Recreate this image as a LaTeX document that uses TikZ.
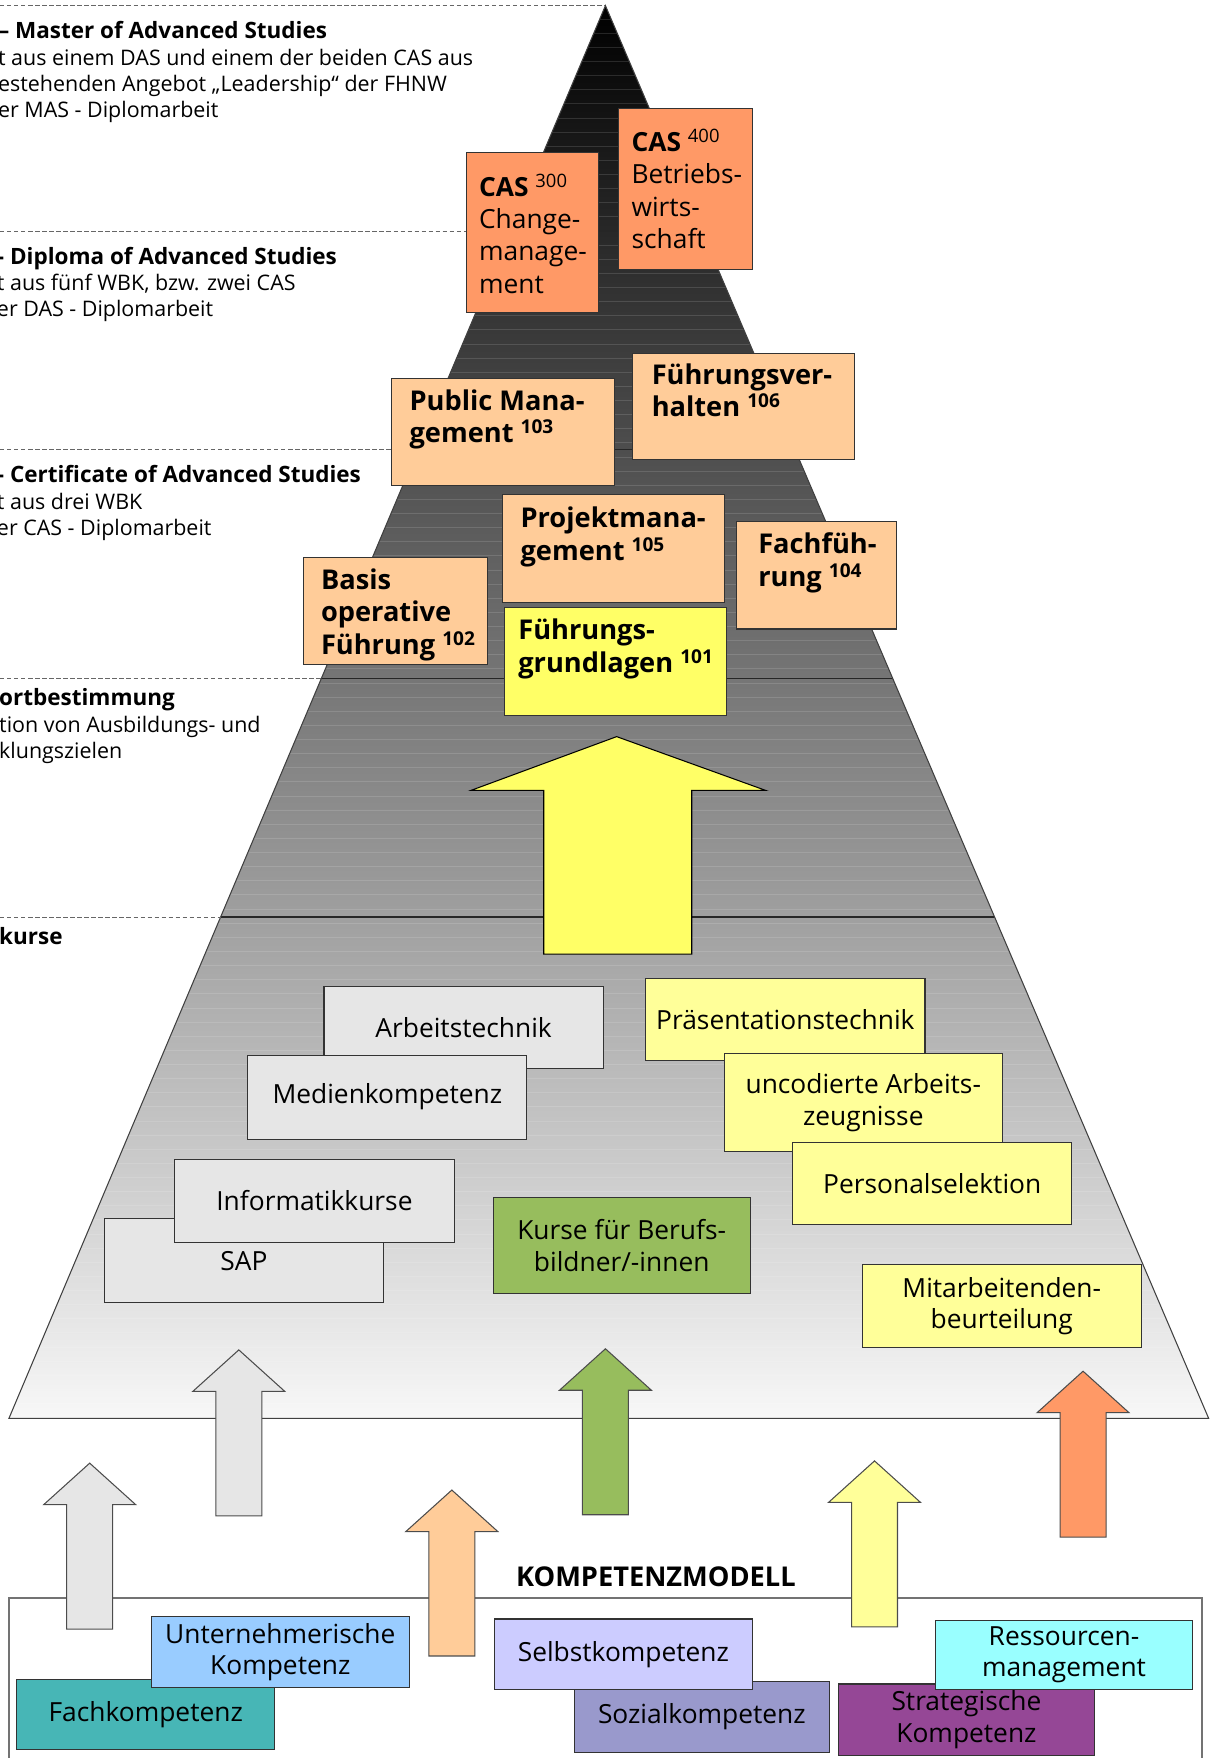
\documentclass[tikz,border=0pt]{standalone}
\usepackage{fontspec}
\setmainfont{Open Sans}
\usetikzlibrary{fit}

\definecolor{casorange}{HTML}{FF9966}
\definecolor{peach}{HTML}{FFCC99}
\definecolor{strongyellow}{HTML}{FFFF66}
\definecolor{paleyellow}{HTML}{FFFF99}
\definecolor{lightgrey}{HTML}{E6E6E6}
\definecolor{leafgreen}{HTML}{97BD5D}
\definecolor{fachteal}{HTML}{47B6B6}
\definecolor{skyblue}{HTML}{99CCFF}
\definecolor{lavender}{HTML}{CCCCFF}
\definecolor{slateviolet}{HTML}{9999CC}
\definecolor{plum}{HTML}{954796}
\definecolor{palecyan}{HTML}{99FFFF}

\newcommand\sidetitle{\fontsize{12.8}{14.9}\selectfont\bfseries}

\tikzset{
  box/.style={draw=black!80, line width=0.6pt, inner sep=0pt},
  boxtext/.style={font=\fontsize{15}{18}\selectfont, align=center},
  toptext/.style={font=\fontsize{15.5}{18.5}\selectfont\bfseries, align=left, inner sep=0pt, anchor=north west},
  castext/.style={font=\fontsize{15}{18.3}\selectfont, align=left, inner sep=0pt, anchor=north west},
  sidetext/.style={font=\fontsize{12.2}{14.9}\selectfont, align=left, inner sep=0pt, anchor=north west},
  stripe/.style={white, opacity=0.13, line width=0.5pt},
  level/.style={black!85, line width=0.8pt},
  dashline/.style={black!60, line width=0.5pt, dash pattern=on 2.5pt off 1.5pt},
  arrowline/.style={draw=black!70, line width=0.6pt},
  uparr/.pic={\draw[arrowline, fill=#1] (0,0) -- (41,37) -- (20.5,37) -- (20.5,148)
     -- (-20.5,148) -- (-20.5,37) -- (-41,37) -- cycle;}
}

\begin{document}
\begin{tikzpicture}[x=0.0224237cm, y=-0.0224237cm]
  \useasboundingbox (0,0) rectangle (1081,1568);

  % pyramid
  \coordinate (apex) at (540,5);
  \coordinate (baseleft) at (8,1265);
  \coordinate (baseright) at (1078,1265);
  \shade[top color=black, bottom color=white!97!black] (apex) -- (baseright) -- (baseleft) -- cycle;
  \begin{scope}
    \clip (apex) -- (baseright) -- (baseleft) -- cycle;
    \foreach \y in {17,29.6,...,1265}
      \draw[stripe] (0,\y) -- (1081,\y);
    \foreach \y in {206,401,605,818}
      \draw[level] (0,\y) -- (1081,\y);
  \end{scope}
  \draw[black!75, line width=0.6pt] (apex) -- (baseright) -- (baseleft) -- cycle;

  % levels on the left
  \foreach \y/\x in {5/540, 206/455, 401/373, 605/287, 818/197}
    \draw[dashline] (0,\y) -- (\x,\y);

  \node[sidetext] (mas) at (-2,19) {{\sidetitle – Master of Advanced Studies}\\
    t aus einem DAS und einem der beiden CAS aus\\
    estehenden Angebot „Leadership“ der FHNW\\
    er MAS - Diplomarbeit};
  \node[sidetext] (das) at (-3,220) {{\sidetitle - Diploma of Advanced Studies}\\
    t aus fünf WBK, bzw. zwei CAS\\
    er DAS - Diplomarbeit};
  \node[sidetext] (cas) at (-3,415) {{\sidetitle - Certificate of Advanced Studies}\\
    t aus drei WBK\\
    er CAS - Diplomarbeit};
  \node[sidetext] (standort) at (-1,614) {{\sidetitle ortbestimmung}\\
    tion von Ausbildungs- und\\
    klungszielen};
  \node[sidetext] (kurse) at (-1,827) {{\sidetitle kurse}};

  % big arrow
  \draw[draw=black, line width=0.6pt, fill=strongyellow] (550,657) -- (683,705) -- (617,705)
    -- (617,851) -- (485,851) -- (485,705) -- (420,705) -- cycle;

  % CAS and WBK boxes
  \node[box, fill=casorange, fit={(416,136) (534,279)}] (cas300) {};
  \node[castext] (cas300t) at (427,155) {\textbf{CAS} \textsuperscript{300}\\Change-\\manage-\\ment};
  \node[box, fill=casorange, fit={(552,97) (671,240)}] (cas400) {};
  \node[castext] (cas400t) at (563,115) {\textbf{CAS} \textsuperscript{400}\\Betriebs-\\wirts-\\schaft};

  \node[box, fill=peach, fit={(349,338) (548,433)}] (wbk103) {};
  \node[toptext] (wbk103t) at (365,347) {Public Mana-\\gement \textsuperscript{103}};
  \node[box, fill=peach, fit={(564,315) (762,410)}] (wbk106) {};
  \node[toptext] (wbk106t) at (581,324) {Führungsver-\\halten \textsuperscript{106}};
  \node[box, fill=peach, fit={(448,441) (646,537)}] (wbk105) {};
  \node[toptext] (wbk105t) at (464,452) {Projektmana-\\gement \textsuperscript{105}};
  \node[box, fill=peach, fit={(657,465) (800,561)}] (wbk104) {};
  \node[toptext] (wbk104t) at (676,475) {Fachfüh-\\rung \textsuperscript{104}};
  \node[box, fill=peach, fit={(271,497) (435,593)}] (wbk102) {};
  \node[toptext] (wbk102t) at (286,507) {Basis\\operative\\Führung \textsuperscript{102}};
  \node[box, fill=strongyellow, fit={(450,542) (648,638)}] (wbk101) {};
  \node[toptext] (wbk101t) at (462,552) {Führungs-\\grundlagen \textsuperscript{101}};

  % courses
  \node[box, fill=lightgrey, fit={(289,880) (538,953)}, label={[boxtext]center:Arbeitstechnik}] (arbeit) {};
  \node[box, fill=lightgrey, fit={(221,941) (470,1016)}, label={[boxtext]center:Medienkompetenz}] (medien) {};
  \node[box, fill=lightgrey, fit={(93,1087) (342,1162)}, label={[boxtext]center:SAP}] (sap) {};
  \node[box, fill=lightgrey, fit={(156,1034) (405,1108)}, label={[boxtext]center:Informatikkurse}] (informatik) {};
  \node[box, fill=leafgreen, fit={(440,1068) (669,1154)}, label={[boxtext]center:{Kurse für Berufs-\\bildner/-innen}}] (berufsbildner) {};
  \node[box, fill=paleyellow, fit={(576,873) (825,946)}, label={[boxtext]center:Präsentationstechnik}] (praesentation) {};
  \node[box, fill=paleyellow, fit={(646,940) (894,1027)}, label={[boxtext]center:{uncodierte Arbeits-\\zeugnisse}}] (zeugnisse) {};
  \node[box, fill=paleyellow, fit={(707,1019) (956,1092)}, label={[boxtext]center:Personalselektion}] (selektion) {};
  \node[box, fill=paleyellow, fit={(769,1128) (1018,1202)}, label={[boxtext]center:{Mitarbeitenden-\\beurteilung}}] (beurteilung) {};

  % competence model
  \draw[black!55, line width=1pt] (8,1580) -- (8,1425) -- (1072,1425) -- (1072,1580);
  \node[font=\fontsize{15.5}{18}\selectfont\bfseries] (modell) at (585,1406) {KOMPETENZMODELL};

  \pic at (80,1305) {uparr=lightgrey};
  \pic at (213,1204) {uparr=lightgrey};
  \pic at (403,1329) {uparr=peach};
  \pic at (540,1203) {uparr=leafgreen};
  \pic at (780,1303) {uparr=paleyellow};
  \pic at (966,1223) {uparr=casorange};

  \node[box, fill=fachteal, fit={(15,1498) (245,1560)}, label={[boxtext]center:Fachkompetenz}] (fach) {};
  \node[box, fill=skyblue, fit={(135,1442) (365,1505)}, label={[boxtext]center:{Unternehmerische\\Kompetenz}}] (unternehmer) {};
  \node[box, fill=slateviolet, fit={(512,1500) (740,1563)}, label={[boxtext]center:Sozialkompetenz}] (sozial) {};
  \node[box, fill=lavender, fit={(441,1444) (671,1507)}, label={[boxtext]center:Selbstkompetenz}] (selbst) {};
  \node[box, fill=plum, fit={(748,1502) (976,1566)}, label={[boxtext]center:{Strategische\\Kompetenz}}] (strategie) {};
  \node[box, fill=palecyan, fit={(834,1445) (1064,1507)}, label={[boxtext]center:{Ressourcen-\\management}}] (ressourcen) {};
\end{tikzpicture}
\end{document}
